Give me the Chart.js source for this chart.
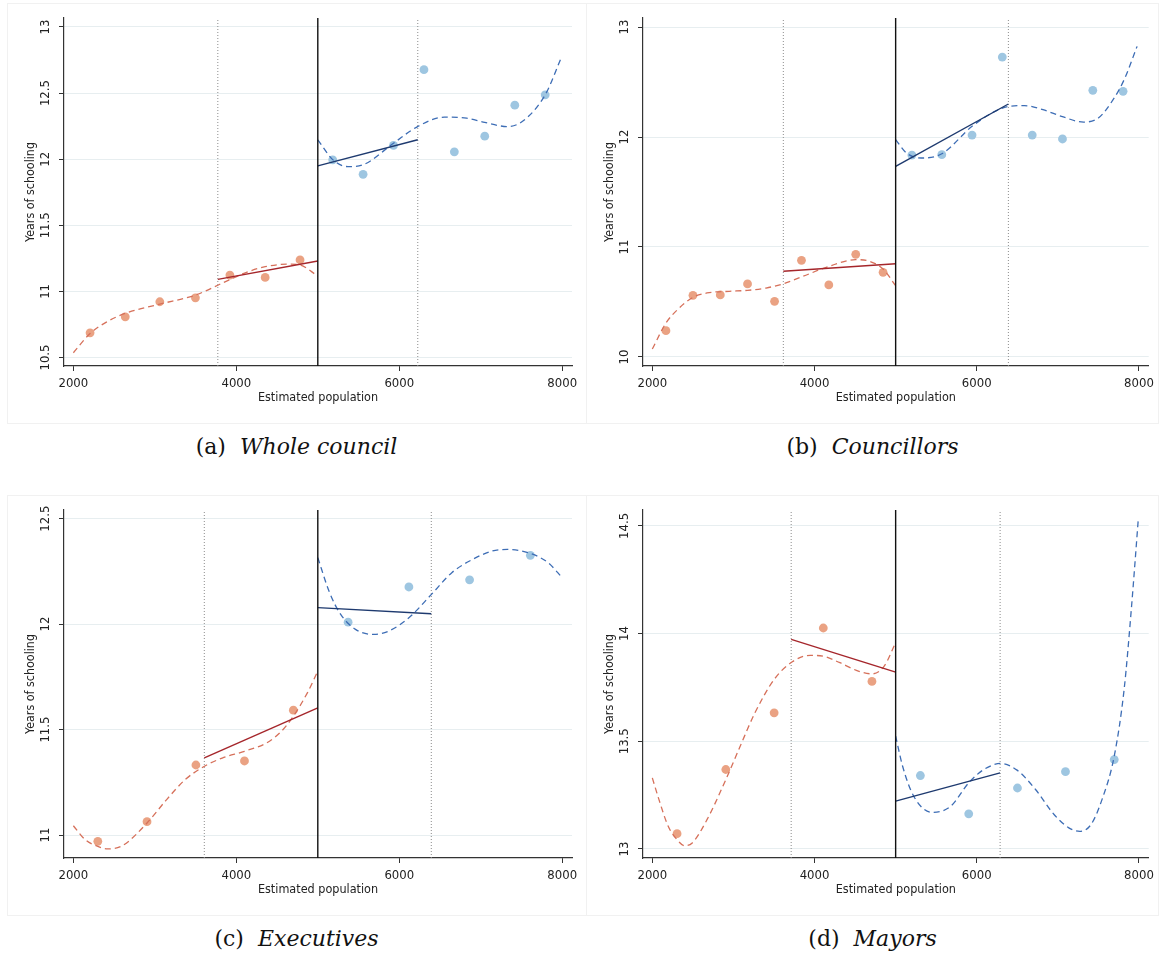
<!DOCTYPE html>
<html>
<head>
<meta charset="utf-8">
<script src="https://cdn.jsdelivr.net/npm/chart.js@4.4.1/dist/chart.umd.min.js"></script>
<style>
html,body{margin:0;padding:0;background:#fff;}
body{width:1159px;height:956px;position:relative;overflow:hidden;}
.frame{position:absolute;box-sizing:border-box;border:1px solid #f1f1f1;}
canvas{position:absolute;}
.cap{position:absolute;font-family:"DejaVu Serif","Liberation Serif",serif;font-size:22px;line-height:26px;color:#111;text-align:center;white-space:nowrap;}
.cap i{font-style:italic;}
</style>
</head>
<body>
<div class="frame" style="left:7px;top:3px;width:580px;height:421px"></div>
<div class="frame" style="left:586px;top:3px;width:573px;height:421px"></div>
<div class="frame" style="left:7px;top:495px;width:580px;height:421px"></div>
<div class="frame" style="left:586px;top:495px;width:573px;height:421px"></div>
<canvas id="pa" width="579" height="420" style="left:7px;top:3px"></canvas>
<canvas id="pb" width="573" height="420" style="left:586px;top:3px"></canvas>
<canvas id="pc" width="579" height="420" style="left:7px;top:495px"></canvas>
<canvas id="pd" width="573" height="420" style="left:586px;top:495px"></canvas>
<div class="cap" style="left:7px;width:579px;top:434px">(a)&nbsp; <i>Whole council</i></div>
<div class="cap" style="left:586px;width:573px;top:434px">(b)&nbsp; <i>Councillors</i></div>
<div class="cap" style="left:7px;width:579px;top:926px">(c)&nbsp; <i>Executives</i></div>
<div class="cap" style="left:586px;width:573px;top:926px">(d)&nbsp; <i>Mayors</i></div>
<script>
// ---------- shared ----------
const xTicks = [2000, 4000, 6000, 8000];
const xRange = [1885, 8120];
const cutoff = 5000;

// ---------- (a) Whole council ----------
const aYTicks = [10.5, 11, 11.5, 12, 12.5, 13];
const aYRange = [10.436, 13.068];
const aBandwidth = [3773, 6227];
const aBinLX = [2205, 2637, 3061, 3498, 3921, 4354, 4782];
const aBinLY = [10.687, 10.808, 10.922, 10.952, 11.124, 11.106, 11.238];
const aBinRX = [5183, 5556, 5929, 6303, 6676, 7049, 7418, 7791];
const aBinRY = [11.995, 11.886, 12.104, 12.677, 12.056, 12.174, 12.409, 12.487];
const aPolyLX = [2000, 2205, 2410, 2637, 3061, 3498, 3821, 4094, 4354, 4641, 4782, 5000];
const aPolyLY = [10.536, 10.682, 10.770, 10.834, 10.904, 10.972, 11.061, 11.137, 11.187, 11.207, 11.200, 11.116];
const aPolyRX = [5000, 5187, 5369, 5551, 5929, 6225, 6553, 6826, 7049, 7327, 7509, 7791, 7987];
const aPolyRY = [12.147, 11.995, 11.944, 11.957, 12.121, 12.247, 12.318, 12.310, 12.278, 12.247, 12.285, 12.487, 12.765];
const aLinLX = [3773, 5000];
const aLinLY = [11.091, 11.230];
const aLinRX = [5000, 6227];
const aLinRY = [11.950, 12.147];

// ---------- (b) Councillors ----------
const bYTicks = [10, 11, 12, 13];
const bYRange = [9.918, 13.082];
const bBandwidth = [3615, 6390];
const bBinLX = [2168, 2501, 2838, 3174, 3507, 3839, 4176, 4508, 4845];
const bBinLY = [10.239, 10.561, 10.564, 10.664, 10.506, 10.879, 10.655, 10.933, 10.770];
const bBinRX = [5200, 5569, 5942, 6315, 6684, 7057, 7431, 7804];
const bBinRY = [11.836, 11.839, 12.018, 12.727, 12.018, 11.982, 12.424, 12.415];
const bPolyLX = [2000, 2168, 2310, 2501, 2674, 2947, 3174, 3402, 3620, 3857, 4176, 4508, 4677, 4845, 5000];
const bPolyLY = [10.073, 10.309, 10.430, 10.542, 10.582, 10.597, 10.606, 10.627, 10.667, 10.733, 10.824, 10.885, 10.870, 10.800, 10.648];
const bPolyRX = [5000, 5132, 5314, 5569, 5942, 6224, 6397, 6588, 6816, 7044, 7317, 7499, 7681, 7817, 7977];
const bPolyRY = [11.976, 11.855, 11.809, 11.848, 12.097, 12.233, 12.279, 12.285, 12.248, 12.188, 12.136, 12.173, 12.339, 12.521, 12.824];
const bLinLX = [3615, 5000];
const bLinLY = [10.779, 10.848];
const bLinRX = [5000, 6390];
const bLinRY = [11.733, 12.300];

// ---------- (c) Executives ----------
const cYTicks = [11, 11.5, 12, 12.5];
const cYRange = [10.891, 12.541];
const cBandwidth = [3607, 6393];
const cBinLX = [2300, 2904, 3504, 4100, 4700];
const cBinLY = [10.970, 11.063, 11.332, 11.351, 11.592];
const cBinRX = [5372, 6118, 6863, 7609];
const cBinRY = [12.009, 12.176, 12.210, 12.326];
const cPolyLX = [2000, 2145, 2300, 2418, 2600, 2904, 3145, 3373, 3609, 3827, 4100, 4373, 4554, 4700, 4872, 5000];
const cPolyLY = [11.044, 10.978, 10.946, 10.934, 10.949, 11.057, 11.168, 11.263, 11.326, 11.365, 11.397, 11.437, 11.492, 11.563, 11.674, 11.777];
const cPolyRX = [5000, 5145, 5281, 5463, 5691, 5872, 6118, 6395, 6645, 6863, 7145, 7327, 7609, 7827, 8000];
const cPolyRY = [12.315, 12.149, 12.046, 11.975, 11.951, 11.967, 12.030, 12.141, 12.244, 12.299, 12.347, 12.354, 12.335, 12.291, 12.220];
const cLinLX = [3607, 5000];
const cLinLY = [11.366, 11.603];
const cLinRX = [5000, 6393];
const cLinRY = [12.078, 12.049];

// ---------- (d) Mayors ----------
const dYTicks = [13, 13.5, 14, 14.5];
const dYRange = [12.958, 14.574];
const dBandwidth = [3712, 6288];
const dBinLX = [2305, 2906, 3502, 4108, 4708];
const dBinLY = [13.071, 13.369, 13.632, 14.026, 13.778];
const dBinRX = [5305, 5901, 6502, 7094, 7695];
const dBinRY = [13.341, 13.163, 13.283, 13.359, 13.415];
const dPolyLX = [2000, 2082, 2196, 2305, 2401, 2492, 2674, 2906, 3083, 3265, 3502, 3721, 3948, 4130, 4312, 4540, 4708, 4859, 5000];
const dPolyLY = [13.330, 13.229, 13.105, 13.043, 13.015, 13.028, 13.136, 13.322, 13.477, 13.632, 13.787, 13.868, 13.899, 13.893, 13.865, 13.826, 13.813, 13.849, 13.958];
const dPolyRX = [5000, 5086, 5223, 5450, 5678, 5901, 6088, 6297, 6497, 6725, 6953, 7135, 7271, 7408, 7544, 7695, 7817, 7909, 7990];
const dPolyRY = [13.524, 13.384, 13.245, 13.170, 13.198, 13.307, 13.369, 13.397, 13.366, 13.276, 13.160, 13.098, 13.082, 13.113, 13.229, 13.431, 13.741, 14.128, 14.523];
const dLinLX = [3712, 5000];
const dLinLY = [13.973, 13.821];
const dLinRX = [5000, 6288];
const dLinRY = [13.222, 13.353];

// ---------- styles ----------
const FONT = '"DejaVu Sans Condensed","Roboto",sans-serif';
const C = {
  dotL: '#eaa283', dotR: '#9ec6e1',
  polyL: '#d6705a', polyR: '#3d6db5',
  linL: '#a5262b', linR: '#1e3a6f',
  bw: '#8c8c8c', cut: '#111111', grid: '#e7eef0', axis: '#333333', text: '#222222'
};

const pts = (xs, ys) => xs.map((x, i) => ({x: x, y: ys[i]}));

function makePanel(id, p) {
  const cv = document.getElementById(id);
  const W = cv.width;
  const [ymin, ymax] = p.yRange;
  const vline = x => [{x: x, y: ymin}, {x: x, y: ymax}];
  const lineDs = (data, color, width, dash, smooth) => ({
    data: data, showLine: true, borderColor: color, backgroundColor: color,
    borderWidth: width, borderDash: dash || [], pointRadius: 0,
    cubicInterpolationMode: smooth ? 'monotone' : 'default', tension: 0, fill: false
  });
  const dotDs = (data, color) => ({
    data: data, showLine: false, pointRadius: 4.4, pointBorderWidth: 0,
    backgroundColor: color, borderColor: color
  });
  new Chart(cv, {
    type: 'scatter',
    data: {
      datasets: [
        lineDs(vline(cutoff), C.cut, 1.4),
        lineDs(pts(p.linLX, p.linLY), C.linL, 1.4),
        lineDs(pts(p.linRX, p.linRY), C.linR, 1.4),
        lineDs(pts(p.polyLX, p.polyLY), C.polyL, 1.3, [6, 4], true),
        lineDs(pts(p.polyRX, p.polyRY), C.polyR, 1.3, [6, 4], true),
        lineDs(vline(p.bw[0]), C.bw, 1, [1, 2]),
        lineDs(vline(p.bw[1]), C.bw, 1, [1, 2]),
        dotDs(pts(p.binLX, p.binLY), C.dotL),
        dotDs(pts(p.binRX, p.binRY), C.dotR)
      ]
    },
    options: {
      responsive: false, animation: false, events: [],
      layout: {padding: {left: 0, top: 15, right: W - 565, bottom: 0}},
      plugins: {legend: {display: false}, tooltip: {enabled: false}},
      scales: {
        x: {
          type: 'linear', position: 'bottom', min: xRange[0], max: xRange[1],
          afterBuildTicks: s => { s.ticks = xTicks.map(v => ({value: v})); },
          afterFit: s => { s.height = 57; },
          grid: {drawOnChartArea: false, drawTicks: true, tickLength: 5, tickColor: C.axis, tickWidth: 1},
          border: {display: true, color: C.axis, width: 1.2},
          ticks: {font: {family: FONT, size: 13}, color: C.text, padding: 5, maxRotation: 0, minRotation: 0,
                  autoSkip: false, callback: v => String(v)},
          title: {display: true, text: 'Estimated population', font: {family: FONT, size: 12.5},
                  color: C.text, padding: {top: 0, bottom: 18}}
        },
        y: {
          type: 'linear', position: 'left', min: ymin, max: ymax,
          afterBuildTicks: s => { s.ticks = p.yTicks.map(v => ({value: v})); },
          afterFit: s => { s.width = 57; },
          grid: {drawOnChartArea: true, color: C.grid, lineWidth: 1, drawTicks: true, tickLength: 5,
                 tickColor: C.axis, tickWidth: 1},
          border: {display: true, color: C.axis, width: 1.2},
          ticks: {font: {family: FONT, size: 13}, color: C.text, padding: p.yPad, minRotation: 90, maxRotation: 90,
                  crossAlign: 'center', autoSkip: false, callback: v => String(v)},
          title: {display: true, text: 'Years of schooling', font: {family: FONT, size: 12.4},
                  color: C.text, padding: {top: 16, bottom: 0}}
        }
      }
    }
  });
}

makePanel('pa', {yTicks: aYTicks, yRange: aYRange, bw: aBandwidth, yPad: 0,
  binLX: aBinLX, binLY: aBinLY, binRX: aBinRX, binRY: aBinRY,
  polyLX: aPolyLX, polyLY: aPolyLY, polyRX: aPolyRX, polyRY: aPolyRY,
  linLX: aLinLX, linLY: aLinLY, linRX: aLinRX, linRY: aLinRY});
makePanel('pb', {yTicks: bYTicks, yRange: bYRange, bw: bBandwidth, yPad: 6,
  binLX: bBinLX, binLY: bBinLY, binRX: bBinRX, binRY: bBinRY,
  polyLX: bPolyLX, polyLY: bPolyLY, polyRX: bPolyRX, polyRY: bPolyRY,
  linLX: bLinLX, linLY: bLinLY, linRX: bLinRX, linRY: bLinRY});
makePanel('pc', {yTicks: cYTicks, yRange: cYRange, bw: cBandwidth, yPad: 0,
  binLX: cBinLX, binLY: cBinLY, binRX: cBinRX, binRY: cBinRY,
  polyLX: cPolyLX, polyLY: cPolyLY, polyRX: cPolyRX, polyRY: cPolyRY,
  linLX: cLinLX, linLY: cLinLY, linRX: cLinRX, linRY: cLinRY});
makePanel('pd', {yTicks: dYTicks, yRange: dYRange, bw: dBandwidth, yPad: 0,
  binLX: dBinLX, binLY: dBinLY, binRX: dBinRX, binRY: dBinRY,
  polyLX: dPolyLX, polyLY: dPolyLY, polyRX: dPolyRX, polyRY: dPolyRY,
  linLX: dLinLX, linLY: dLinLY, linRX: dLinRX, linRY: dLinRY});
</script>
</body>
</html>
